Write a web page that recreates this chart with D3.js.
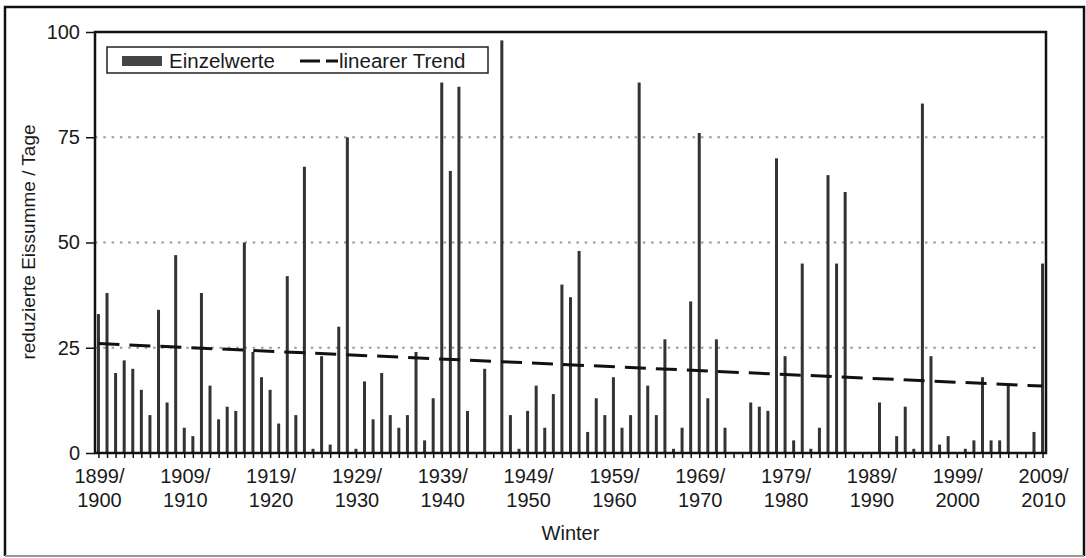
<!DOCTYPE html>
<html>
<head>
<meta charset="utf-8">
<script src="https://cdn.jsdelivr.net/npm/d3@7"></script>
<style>
  body { margin: 0; background: #fff; }
  svg { display: block; font-family: "Liberation Sans", Arial, sans-serif; }
  .tick-label { font-size: 20px; fill: #1a1a1a; }
</style>
</head>
<body>
<div id="chart"></div>
<script>
//-----------------------------DATA-----------------------------//
const winters = d3.range(1899, 2010); // start year of each winter
const eissumme = [
  33, 38, 19, 22, 20, 15, 9, 34, 12, 47, 6, 4, 38, 16, 8, 11, 10, 50, 24, 18,
  15, 7, 42, 9, 68, 1, 23, 2, 30, 75, 1, 17, 8, 19, 9, 6, 9, 24, 3, 13,
  88, 67, 87, 10, 0, 20, 0, 98, 9, 1, 10, 16, 6, 14, 40, 37, 48, 5, 13, 9,
  18, 6, 9, 88, 16, 9, 27, 1, 6, 36, 76, 13, 27, 6, 0, 0, 12, 11, 10, 70,
  23, 3, 45, 1, 6, 66, 45, 62, 0, 0, 0, 12, 0, 4, 11, 1, 83, 23, 2, 4,
  0, 1, 3, 18, 3, 3, 16, 0, 0, 5, 45
];
const trendEnds = [26.0, 15.9]; // linear trend at first and last winter
const yTicks = [0, 25, 50, 75, 100];
const gridValues = [25, 50, 75];
const labelWinters = [1899, 1909, 1919, 1929, 1939, 1949, 1959, 1969, 1979, 1989, 1999, 2009];

//-----------------------------SVG------------------------------//
const width = 1086;
const height = 558;
const plot = { left: 95, top: 32, right: 1046, bottom: 453 };

const svg = d3.select("#chart").append("svg")
  .attr("width", width)
  .attr("height", height);

// outer frame
svg.append("path")
  .attr("d", "M5,556 L5,7 L1084,7 L1084,556")
  .attr("fill", "none")
  .attr("stroke", "#111")
  .attr("stroke-width", 2.5);
svg.append("line")
  .attr("x1", 5).attr("x2", 1084)
  .attr("y1", 556).attr("y2", 556)
  .attr("stroke", "#999")
  .attr("stroke-width", 2);

//----------------------------SCALES----------------------------//
const xScale = d3.scalePoint()
  .domain(winters)
  .range([plot.left, plot.right])
  .padding(0.4);

const yScale = d3.scaleLinear()
  .domain([0, 100])
  .range([plot.bottom, plot.top]);

//----------------------------GRID------------------------------//
svg.append("g")
  .selectAll("line")
  .data(gridValues)
  .enter()
  .append("line")
  .attr("x1", plot.left)
  .attr("x2", plot.right)
  .attr("y1", d => yScale(d))
  .attr("y2", d => yScale(d))
  .attr("stroke", "#999")
  .attr("stroke-width", 2)
  .attr("stroke-dasharray", "2.5,5.8");

//----------------------------BARS------------------------------//
const barW = 3;
svg.append("g")
  .selectAll("rect")
  .data(eissumme)
  .enter()
  .append("rect")
  .attr("x", (d, i) => xScale(winters[i]) - barW / 2)
  .attr("y", d => yScale(d))
  .attr("width", barW)
  .attr("height", d => yScale(0) - yScale(d))
  .attr("fill", "#333");

//----------------------------TREND-----------------------------//
const trendLine = d3.line()
  .x(d => xScale(d.w))
  .y(d => yScale(d.v));

svg.append("path")
  .datum([
    { w: winters[0], v: trendEnds[0] },
    { w: winters[winters.length - 1], v: trendEnds[1] }
  ])
  .attr("d", trendLine)
  .attr("fill", "none")
  .attr("stroke", "#111")
  .attr("stroke-width", 3)
  .attr("stroke-dasharray", "21,10");

//-----------------------------AXES-----------------------------//
// plot frame
svg.append("rect")
  .attr("x", plot.left)
  .attr("y", plot.top)
  .attr("width", plot.right - plot.left)
  .attr("height", plot.bottom - plot.top)
  .attr("fill", "none")
  .attr("stroke", "#111")
  .attr("stroke-width", 2.5);

const yaxis = d3.axisLeft(yScale)
  .tickValues(yTicks)
  .tickSize(9)
  .tickPadding(6);

const yG = svg.append("g")
  .attr("transform", "translate(" + plot.left + ",0)")
  .call(yaxis);
yG.select(".domain").remove();
yG.selectAll(".tick line").attr("stroke", "#111").attr("stroke-width", 1.5);
yG.selectAll(".tick text")
  .attr("class", "tick-label")
  .style("font-family", "inherit")
  .style("font-size", "20px");

const xaxis = d3.axisBottom(xScale)
  .tickSize(5)
  .tickFormat("");

const xG = svg.append("g")
  .attr("transform", "translate(0," + plot.bottom + ")")
  .call(xaxis);
xG.select(".domain").remove();
xG.selectAll(".tick line").attr("stroke", "#111").attr("stroke-width", 1.5);

// two-line winter labels
const xLabels = svg.append("g")
  .selectAll("text")
  .data(labelWinters)
  .enter()
  .append("text")
  .attr("class", "tick-label")
  .attr("text-anchor", "middle")
  .attr("transform", d => "translate(" + (xScale(d) + 1) + ",0)");
xLabels.append("tspan").attr("x", 0).attr("y", 483).text(d => d + "/");
xLabels.append("tspan").attr("x", 0).attr("y", 507).text(d => d + 1);

// axis titles
svg.append("text")
  .attr("x", (plot.left + plot.right) / 2)
  .attr("y", 540)
  .attr("text-anchor", "middle")
  .style("font-size", "20px")
  .attr("fill", "#1a1a1a")
  .text("Winter");

svg.append("text")
  .attr("transform", "translate(35,242) rotate(-90)")
  .attr("text-anchor", "middle")
  .style("font-size", "19px")
  .attr("fill", "#1a1a1a")
  .text("reduzierte Eissumme / Tage");

//----------------------------LEGEND----------------------------//
const legend = svg.append("g");
legend.append("rect")
  .attr("x", 107).attr("y", 47)
  .attr("width", 381).attr("height", 26)
  .attr("fill", "#fff")
  .attr("stroke", "#222")
  .attr("stroke-width", 1.5);
legend.append("rect")
  .attr("x", 122).attr("y", 56)
  .attr("width", 40).attr("height", 10)
  .attr("fill", "#444");
legend.append("text")
  .attr("x", 169).attr("y", 68)
  .style("font-size", "20.5px")
  .attr("fill", "#1a1a1a")
  .text("Einzelwerte");
legend.append("line")
  .attr("x1", 300).attr("x2", 338)
  .attr("y1", 61).attr("y2", 61)
  .attr("stroke", "#111")
  .attr("stroke-width", 3)
  .attr("stroke-dasharray", "20,6");
legend.append("text")
  .attr("x", 339).attr("y", 68)
  .style("font-size", "20.5px")
  .attr("fill", "#1a1a1a")
  .text("linearer Trend");
</script>
</body>
</html>
